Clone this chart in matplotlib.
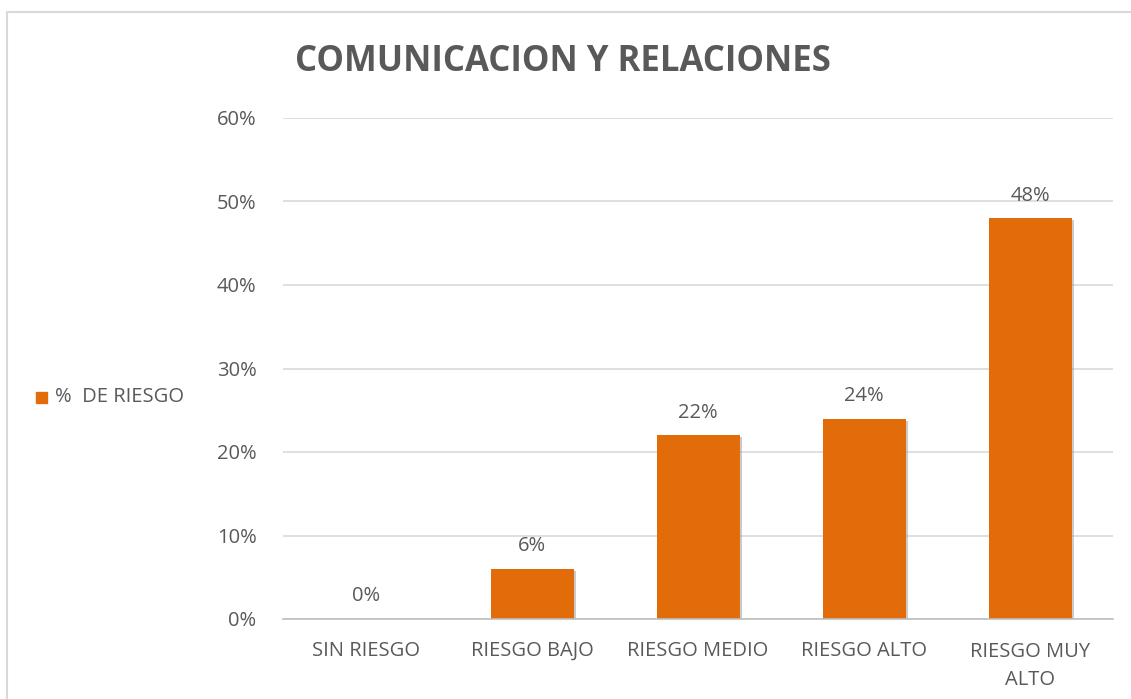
import matplotlib.pyplot as plt
from matplotlib.patches import Rectangle
from matplotlib.transforms import ScaledTranslation
import matplotlib.patheffects as pe

# datos
categorias = ['SIN RIESGO', 'RIESGO BAJO', 'RIESGO MEDIO', 'RIESGO ALTO', 'RIESGO MUY\nALTO']
valores = [0.00, 0.06, 0.22, 0.24, 0.48]
etiquetas = ['0%', '6%', '22%', '24%', '48%']
ticks_y = [0, 0.1, 0.2, 0.3, 0.4, 0.5, 0.6]

naranja = '#E36C0A'
gris = '#595959'

plt.rcParams['font.family'] = ['Open Sans', 'DejaVu Sans']

fig = plt.figure(figsize=(11.31, 6.99), dpi=100)
ax = fig.add_axes([283 / 1131, 1 - 619 / 699, 830 / 1131, 501 / 699])

x = range(len(categorias))
barras = ax.bar(x, valores, width=0.5, color=naranja, zorder=3)
for b in barras:
    b.set_path_effects([pe.SimplePatchShadow(offset=(1.5, -1.5), shadow_rgbFace='#999999', alpha=0.5), pe.Normal()])

for xi, v, t in zip(x, valores, etiquetas):
    ax.text(xi, v + 0.015, t, ha='center', va='bottom', fontsize=14.5, color=gris)

ax.set_xlim(-0.5, len(categorias) - 0.5)
ax.set_ylim(0, 0.6)
ax.set_yticks(ticks_y)
ax.set_yticklabels([f'{int(round(t * 100))}%' for t in ticks_y])
ax.set_xticks(list(x))
ax.set_xticklabels([])
ax.tick_params(axis='both', length=0, labelsize=14.5, colors=gris)
ax.tick_params(axis='y', pad=19)

# etiquetas del eje x alineadas por la línea base
for xi, cat in zip(x, categorias):
    n = cat.count('\n')
    desplaz = ScaledTranslation(0, -(37 + 29 * n) / 100, fig.dpi_scale_trans)
    ax.text(xi, 0, cat, transform=ax.get_xaxis_transform() + desplaz, ha='center', va='baseline',
            fontsize=14.5, color=gris, linespacing=1.55, multialignment='center')

ax.grid(axis='y', color='#D9D9D9', linewidth=1.2, zorder=0)
for s in ['top', 'right', 'left']:
    ax.spines[s].set_visible(False)
ax.spines['bottom'].set_color('#BFBFBF')
ax.spines['bottom'].set_linewidth(1.2)
ax.spines['bottom'].set_zorder(4)

fig.text(563 / 1131, 1 - 62 / 699, 'COMUNICACION Y RELACIONES', ha='center', va='center',
         fontsize=25, fontweight='bold', color=gris)

# leyenda
fig.patches.append(Rectangle((36 / 1131, 1 - 403 / 699), 11 / 1131, 11 / 699,
                             transform=fig.transFigure, color=naranja))
fig.text(55 / 1131, 1 - 397 / 699, '%  DE RIESGO', ha='left', va='center', fontsize=14.5, color=gris)

# borde
fig.patches.append(Rectangle((7 / 1131, -0.05), 1.1, 1 - 12 / 699 + 0.05,
                             transform=fig.transFigure, fill=False, edgecolor='#D9D9D9', linewidth=1.5))

fig.savefig('out.png', dpi=100)
